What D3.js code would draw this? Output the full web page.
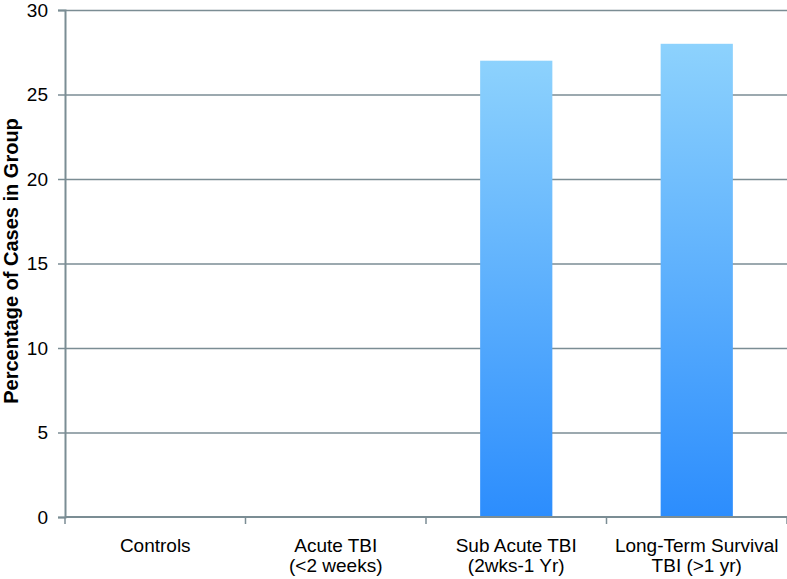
<!DOCTYPE html>
<html>
<head>
<meta charset="utf-8">
<script src="https://cdn.jsdelivr.net/npm/d3@7"></script>
<style>
  body { margin: 0; background: #fff; }
  text { font-family: "Liberation Sans", Arial, sans-serif; }
</style>
</head>
<body>
<svg id="chart" width="787" height="579"></svg>
<script>
// data
var categories = [
  ["Controls"],
  ["Acute TBI", "(<2 weeks)"],
  ["Sub Acute TBI", "(2wks-1 Yr)"],
  ["Long-Term Survival", "TBI (>1 yr)"]
];
var values = [0, 0, 27, 28];
var yTicks = [0, 5, 10, 15, 20, 25, 30];

var width = 787, height = 579
  , margin = {top: 10, right: 0, bottom: 62, left: 65}
  , axisColor = "#7b8d94";

var svg = d3.select("#chart");

// gradient for the bars, light at top, deep at bottom
var grad = svg.append("defs").append("linearGradient")
    .attr("id", "barGrad")
    .attr("x1", 0).attr("y1", 0).attr("x2", 0).attr("y2", 1);
grad.append("stop").attr("offset", "0%").attr("stop-color", "#8dd2fd");
grad.append("stop").attr("offset", "100%").attr("stop-color", "#2c8dfd");

var x = d3.scaleBand()
    .domain(d3.range(categories.length))
    .range([margin.left, width - margin.right])
    .paddingInner(0)
    .paddingOuter(0);

var y = d3.scaleLinear()
    .domain([0, 30])
    .range([height - margin.bottom, margin.top]);

// gridlines
svg.append("g")
  .selectAll("line")
  .data(yTicks.filter(d => d > 0))
  .enter().append("line")
    .attr("x1", margin.left)
    .attr("x2", width - margin.right)
    .attr("y1", d => y(d) + 0.5)
    .attr("y2", d => y(d) + 0.5)
    .attr("stroke", axisColor)
    .attr("stroke-width", 1.5);

// bars
svg.append("g")
  .selectAll("rect")
  .data(values)
  .enter().append("rect")
    .attr("x", (d, i) => x(i) + x.bandwidth() * 0.3)
    .attr("width", x.bandwidth() * 0.4)
    .attr("y", d => y(d))
    .attr("height", d => y(0) - y(d))
    .attr("fill", "url(#barGrad)");

// y axis
var yAxis = svg.append("g")
    .attr("transform", "translate(" + margin.left + ",0)")
    .call(d3.axisLeft(y).tickValues(yTicks).tickSize(7).tickPadding(10));
yAxis.select(".domain").attr("stroke", axisColor).attr("stroke-width", 2);
yAxis.selectAll(".tick line").attr("stroke", axisColor).attr("stroke-width", 1.5);
yAxis.selectAll(".tick text")
    .attr("fill", "#000")
    .style("font-size", "19px");

// x axis
var xAxis = svg.append("g")
    .attr("transform", "translate(0," + y(0) + ")");
xAxis.append("line")
    .attr("x1", margin.left).attr("x2", width - margin.right)
    .attr("stroke", axisColor).attr("stroke-width", 2);
xAxis.selectAll(".xtick")
  .data(d3.range(categories.length + 1))
  .enter().append("line")
    .attr("x1", i => i < categories.length ? x(i) : width - margin.right)
    .attr("x2", i => i < categories.length ? x(i) : width - margin.right)
    .attr("y1", 0).attr("y2", 7)
    .attr("stroke", axisColor).attr("stroke-width", 1.5);

xAxis.selectAll(".xlabel")
  .data(categories)
  .enter().append("text")
    .attr("text-anchor", "middle")
    .attr("x", (d, i) => x(i) + x.bandwidth() / 2)
    .attr("y", 35)
    .style("font-size", "19px")
    .selectAll("tspan")
    .data(d => d)
    .enter().append("tspan")
      .attr("x", function() { return this.parentNode.getAttribute("x"); })
      .attr("dy", (d, i) => i === 0 ? 0 : 20)
      .text(d => d);

// y label
svg.append("text")
    .attr("transform", "translate(18,261) rotate(-90)")
    .attr("text-anchor", "middle")
    .style("font-size", "20px")
    .style("font-weight", "bold")
    .text("Percentage of Cases in Group");
</script>
</body>
</html>
